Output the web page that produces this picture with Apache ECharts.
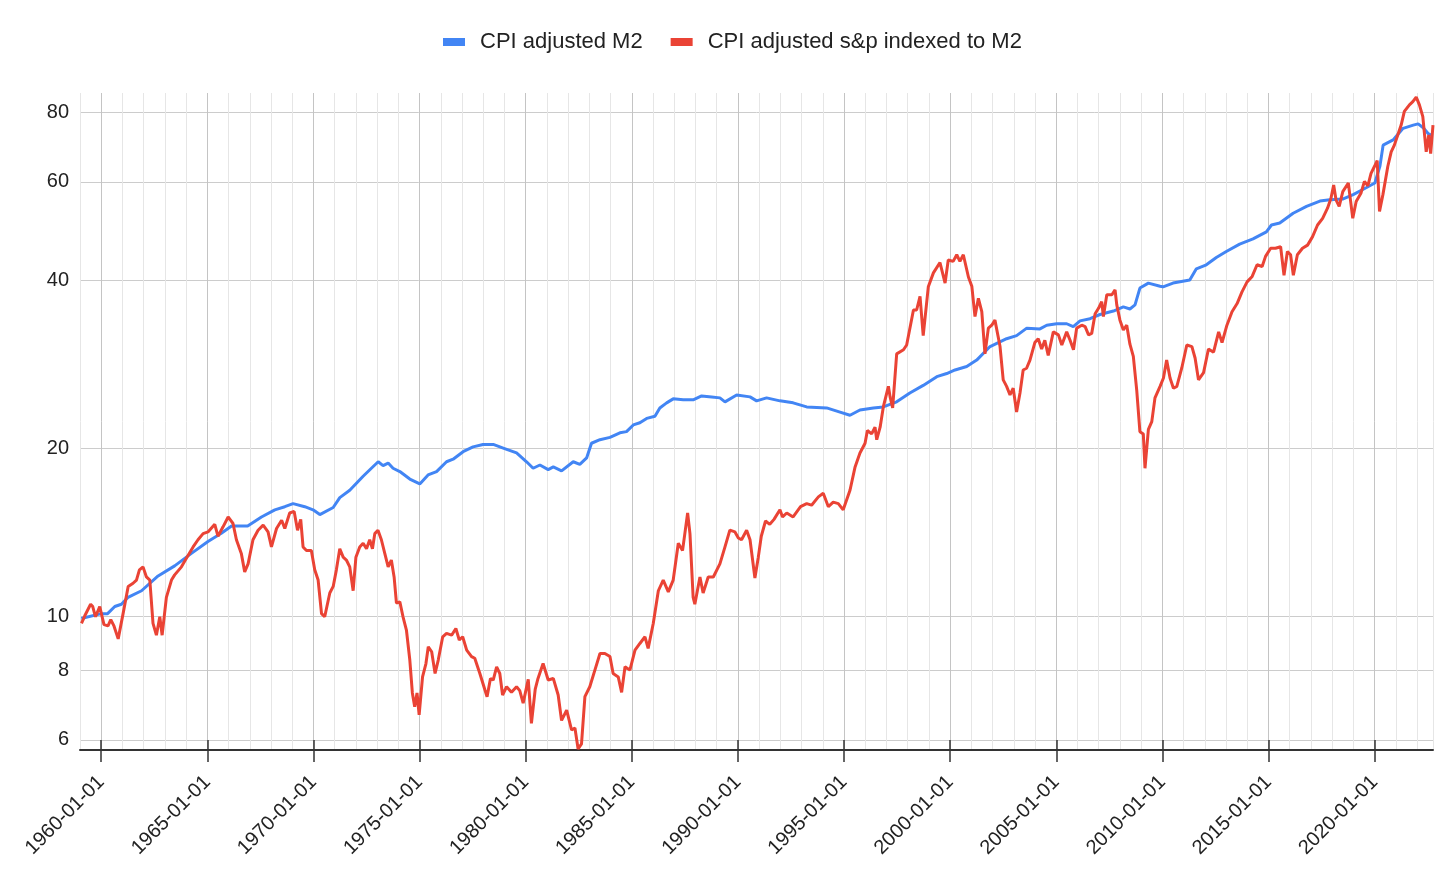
<!DOCTYPE html>
<html>
<head>
<meta charset="utf-8">
<script src="https://cdn.jsdelivr.net/npm/echarts@6/dist/echarts.min.js"></script>
<style>
  html, body { margin: 0; padding: 0; background: #fff; }
  #chart { width: 1456px; height: 894px; }
</style>
</head>
<body>
<div id="chart"></div>
<script>
// ---- Data (decimal year, value) ----
const m2Years = [1959.06,1960.0,1960.3,1960.64,1960.95,1961.26,1961.9,1962.68,1963.46,1964.25,1965.03,1965.66,1966.14,1966.45,1966.9,1967.55,1968.18,1968.65,1969.04,1969.59,1969.98,1970.3,1970.93,1971.24,1971.71,1972.34,1972.73,1973.05,1973.28,1973.52,1973.75,1974.07,1974.54,1975.01,1975.4,1975.8,1976.27,1976.58,1977.05,1977.52,1977.99,1978.47,1978.94,1979.57,1980.04,1980.35,1980.67,1981.06,1981.3,1981.69,1982.24,1982.55,1982.87,1983.1,1983.5,1983.97,1984.44,1984.75,1985.07,1985.38,1985.7,1986.09,1986.32,1986.64,1986.95,1987.42,1987.89,1988.29,1988.76,1989.15,1989.39,1989.94,1990.57,1990.88,1991.35,1991.98,1992.6,1993.24,1994.18,1994.81,1995.28,1995.75,1996.38,1996.85,1997.48,1998.1,1998.73,1999.37,1999.84,2000.23,2000.78,2001.25,2001.88,2002.66,2003.13,2003.61,2004.23,2004.55,2005.02,2005.49,2005.8,2006.12,2006.59,2007.06,2007.69,2008.16,2008.47,2008.71,2008.94,2009.34,2009.89,2010.03,2010.5,2011.29,2011.6,2012.07,2012.54,2013.01,2013.64,2014.27,2014.9,2015.14,2015.53,2016.16,2016.79,2017.42,2017.89,2018.52,2018.99,2019.62,2020.01,2020.25,2020.4,2020.87,2021.34,2021.82,2022.05,2022.29,2022.52,2022.72];
const m2Values = [9.9,10.1,10.1,10.4,10.5,10.8,11.1,11.8,12.3,12.95,13.6,14.07,14.5,14.5,14.5,15.05,15.5,15.7,15.9,15.7,15.5,15.2,15.65,16.3,16.8,17.8,18.4,18.9,18.6,18.8,18.4,18.15,17.6,17.25,17.9,18.15,18.9,19.1,19.7,20.1,20.3,20.3,20.0,19.6,18.9,18.4,18.65,18.3,18.5,18.2,18.9,18.7,19.2,20.4,20.7,20.9,21.3,21.4,22.0,22.2,22.6,22.8,23.6,24.1,24.5,24.4,24.4,24.8,24.7,24.6,24.2,24.9,24.7,24.3,24.6,24.3,24.1,23.7,23.6,23.2,22.9,23.4,23.6,23.7,24.2,25.1,25.9,26.85,27.2,27.6,28.0,28.75,30.4,31.4,31.8,32.8,32.7,33.2,33.4,33.4,33.0,33.8,34.1,34.7,35.2,35.8,35.5,36.1,38.7,39.5,39.0,38.9,39.5,40.0,41.9,42.6,43.9,45.0,46.4,47.4,48.8,50.2,50.6,52.7,54.2,55.4,55.7,55.9,56.9,58.6,59.7,64.0,69.8,71.3,74.8,75.8,76.2,75.0,73.2,72.5];

const spYears = [1959.07,1959.22,1959.5,1959.6,1959.73,1959.93,1960.13,1960.32,1960.45,1960.6,1960.8,1961.03,1961.27,1961.5,1961.66,1961.8,1961.97,1962.13,1962.29,1962.44,1962.6,1962.76,1962.87,1963.07,1963.31,1963.46,1963.78,1964.02,1964.33,1964.56,1964.8,1965.03,1965.35,1965.5,1965.74,1965.98,1966.21,1966.37,1966.6,1966.76,1966.92,1967.15,1967.39,1967.63,1967.86,1968.02,1968.26,1968.5,1968.65,1968.88,1969.09,1969.25,1969.4,1969.51,1969.67,1969.9,1970.06,1970.22,1970.38,1970.53,1970.77,1970.93,1971.08,1971.24,1971.4,1971.55,1971.71,1971.87,1972.0,1972.18,1972.34,1972.5,1972.65,1972.78,1972.89,1973.04,1973.2,1973.36,1973.52,1973.67,1973.8,1973.91,1974.07,1974.22,1974.38,1974.54,1974.66,1974.77,1974.88,1974.98,1975.14,1975.3,1975.41,1975.57,1975.73,1975.88,1976.09,1976.27,1976.51,1976.71,1976.87,1977.03,1977.22,1977.45,1977.6,1977.84,1978.08,1978.18,1978.34,1978.47,1978.63,1978.78,1978.91,1979.1,1979.33,1979.57,1979.72,1979.88,1980.12,1980.27,1980.45,1980.58,1980.82,1981.06,1981.3,1981.53,1981.69,1981.93,1982.16,1982.32,1982.47,1982.63,1982.79,1983.02,1983.26,1983.5,1983.73,1983.97,1984.12,1984.36,1984.52,1984.68,1984.91,1985.15,1985.38,1985.62,1985.77,1986.01,1986.25,1986.48,1986.72,1986.95,1987.19,1987.39,1987.63,1987.74,1987.89,1987.97,1988.21,1988.36,1988.6,1988.84,1989.15,1989.39,1989.62,1989.86,1990.02,1990.17,1990.41,1990.57,1990.8,1990.96,1991.1,1991.3,1991.5,1991.7,1991.98,1992.1,1992.3,1992.6,1992.95,1993.24,1993.47,1993.79,1994.02,1994.26,1994.49,1994.73,1994.96,1995.28,1995.52,1995.75,1995.99,1996.1,1996.3,1996.46,1996.54,1996.7,1996.85,1997.09,1997.17,1997.29,1997.48,1997.8,1997.95,1998.27,1998.42,1998.58,1998.73,1998.97,1999.21,1999.52,1999.76,1999.91,2000.14,2000.31,2000.46,2000.62,2000.86,2001.02,2001.17,2001.33,2001.49,2001.64,2001.8,2001.96,2002.11,2002.35,2002.5,2002.66,2002.82,2002.97,2003.13,2003.29,2003.44,2003.6,2003.76,2003.99,2004.15,2004.31,2004.46,2004.62,2004.86,2005.1,2005.26,2005.49,2005.65,2005.81,2005.96,2006.2,2006.36,2006.52,2006.67,2006.83,2006.99,2007.14,2007.22,2007.38,2007.62,2007.77,2007.85,2008.0,2008.16,2008.32,2008.47,2008.63,2008.79,2008.94,2009.1,2009.18,2009.34,2009.5,2009.65,2009.89,2010.05,2010.2,2010.36,2010.52,2010.68,2010.91,2011.15,2011.39,2011.54,2011.7,2011.94,2012.17,2012.41,2012.65,2012.81,2013.04,2013.28,2013.52,2013.75,2013.99,2014.23,2014.46,2014.7,2014.86,2015.1,2015.33,2015.57,2015.73,2015.89,2016.04,2016.17,2016.36,2016.6,2016.84,2017.07,2017.31,2017.55,2017.78,2017.94,2018.07,2018.18,2018.33,2018.5,2018.76,2018.97,2019.13,2019.36,2019.52,2019.68,2019.83,2019.99,2020.12,2020.23,2020.39,2020.62,2020.78,2020.93,2021.09,2021.25,2021.4,2021.64,2021.8,2021.96,2022.11,2022.27,2022.43,2022.55,2022.64,2022.75];
const spValues = [9.7,10.0,10.5,10.4,9.97,10.4,9.65,9.6,9.85,9.6,9.1,10.1,11.3,11.45,11.6,12.1,12.25,11.75,11.6,9.7,9.24,9.97,9.24,10.8,11.6,11.85,12.25,12.7,13.3,13.7,14.05,14.15,14.6,13.9,14.45,15.05,14.65,13.7,12.95,12.0,12.4,13.7,14.25,14.55,14.15,13.3,14.35,14.85,14.35,15.3,15.4,14.25,14.9,13.3,13.1,13.1,12.1,11.6,10.1,9.97,11.0,11.3,12.1,13.2,12.75,12.6,12.25,11.1,12.75,13.3,13.5,13.2,13.7,13.2,14.05,14.25,13.7,12.95,12.25,12.6,11.75,10.55,10.6,9.97,9.44,8.34,7.28,6.88,7.28,6.65,7.78,8.22,8.81,8.63,7.89,8.34,9.18,9.31,9.24,9.5,9.06,9.18,8.69,8.46,8.4,7.89,7.37,7.17,7.73,7.68,8.11,7.89,7.22,7.47,7.3,7.47,7.35,6.98,7.7,6.42,7.4,7.73,8.22,7.68,7.73,7.22,6.5,6.78,6.25,6.3,5.78,5.9,7.17,7.47,8.0,8.57,8.57,8.46,7.89,7.78,7.3,8.11,8.0,8.69,8.93,9.18,8.75,9.7,11.1,11.6,11.05,11.6,13.5,13.1,15.3,14.05,10.8,10.5,11.75,11.0,11.75,11.75,12.4,13.3,14.25,14.15,13.8,13.7,14.25,13.7,11.7,12.75,13.9,14.8,14.6,14.9,15.5,15.05,15.3,15.05,15.7,15.9,15.8,16.35,16.6,15.7,16.0,15.9,15.5,16.8,18.5,19.6,20.4,21.5,21.2,21.8,20.7,21.8,23.7,25.8,24.7,23.6,29.5,30.0,30.6,35.35,35.35,37.4,31.8,38.9,41.2,43.0,39.5,43.45,43.2,44.4,43.2,44.4,40.5,39.0,34.4,37.1,35.1,29.5,32.8,33.2,33.9,30.4,26.5,25.8,24.9,25.6,23.2,25.1,27.6,27.8,28.75,30.9,31.4,30.1,31.2,29.3,32.3,31.9,30.6,32.3,31.2,30.0,32.8,33.2,33.0,31.9,32.1,34.8,35.6,36.6,34.4,37.65,37.65,38.4,36.1,33.9,32.55,33.2,30.7,29.2,25.4,21.4,21.2,18.4,21.6,22.3,24.6,25.8,26.7,28.75,26.7,25.6,25.8,27.8,30.6,30.4,29.0,26.5,27.3,30.1,29.7,32.3,30.9,33.2,35.1,36.3,38.1,39.7,40.6,42.6,42.3,44.1,45.6,45.6,45.9,40.8,45.0,44.4,40.8,44.4,45.6,46.2,47.8,50.2,51.6,53.8,56.0,59.2,55.7,54.2,57.6,59.7,51.6,55.3,57.3,60.1,59.0,62.1,63.9,65.5,53.1,56.9,63.9,67.9,69.8,72.8,75.8,80.2,82.4,83.5,85.1,82.4,78.5,67.9,72.8,67.4,75.8];

const seriesNames = ['CPI adjusted M2', 'CPI adjusted s&p indexed to M2'];
const majorYears = [1960,1965,1970,1975,1980,1985,1990,1995,2000,2005,2010,2015,2020];
const yTickValues = [6,8,10,20,40,60,80];

const X_MIN = 1959, X_MAX = 2022.75;
const Y_MIN = 5.754, Y_MAX = 86.54;
const FONT = "'Liberation Sans', Arial, sans-serif";

const chart = echarts.init(document.getElementById('chart'), null, { renderer: 'canvas' });

const xBase = { type: 'value', min: X_MIN, max: X_MAX, gridIndex: 0, position: 'bottom', offset: 0 };

chart.setOption({
  animation: false,
  backgroundColor: '#ffffff',
  textStyle: { fontFamily: FONT },
  legend: {
    top: 26,
    left: 438,
    icon: 'rect',
    itemWidth: 22,
    itemHeight: 8,
    itemGap: 28,
    textStyle: { fontFamily: FONT, fontSize: 22, color: '#222', padding: [0, 0, 0, 10] },
    data: seriesNames
  },
  grid: { left: 80, right: 23, top: 93, bottom: 144, containLabel: false, outerBoundsMode: 'none' },
  xAxis: [
    Object.assign({}, xBase, {
      interval: 1,
      axisLine: { show: true, onZero: false, lineStyle: { color: '#333', width: 2 } },
      axisTick: { show: false },
      axisLabel: { show: false },
      splitLine: { show: true, lineStyle: { color: '#e6e6e6', width: 1 } }
    }),
    Object.assign({}, xBase, {
      axisLine: { show: false, onZero: false },
      axisTick: { show: true, customValues: majorYears, length: 12, inside: false, lineStyle: { color: '#333', width: 1.5 } },
      axisLabel: {
        show: true,
        customValues: majorYears,
        rotate: 45,
        margin: 29,
        padding: [70, 0, 0, 0],
        fontSize: 20,
        fontFamily: FONT,
        color: '#222',
        formatter: v => v + '-01-01'
      },
      splitLine: { show: true, lineStyle: { color: '#c4c4c4', width: 1 } }
    }),
    Object.assign({}, xBase, {
      axisLine: { show: false, onZero: false },
      axisTick: { show: true, customValues: majorYears, length: 10, inside: true, lineStyle: { color: '#333', width: 1.5 } },
      axisLabel: { show: false },
      splitLine: { show: false }
    })
  ],
  yAxis: {
    type: 'log',
    logBase: 10,
    min: Y_MIN,
    max: Y_MAX,
    axisLine: { show: false },
    axisTick: { show: false, customValues: yTickValues },
    axisLabel: { customValues: yTickValues, fontSize: 20, fontFamily: FONT, color: '#222', margin: 11 },
    splitLine: { show: true, lineStyle: { color: '#cccccc', width: 1 } }
  },
  series: [
    {
      name: seriesNames[0],
      type: 'line',
      xAxisIndex: 0,
      showSymbol: false,
      symbol: 'none',
      color: '#4285F4',
      lineStyle: { color: '#4285F4', width: 3 },
      data: m2Years.map((x, i) => [x, m2Values[i]])
    },
    {
      name: seriesNames[1],
      type: 'line',
      xAxisIndex: 0,
      showSymbol: false,
      symbol: 'none',
      color: '#EA4335',
      lineStyle: { color: '#EA4335', width: 3 },
      data: spYears.map((x, i) => [x, spValues[i]])
    }
  ]
});
</script>
</body>
</html>
